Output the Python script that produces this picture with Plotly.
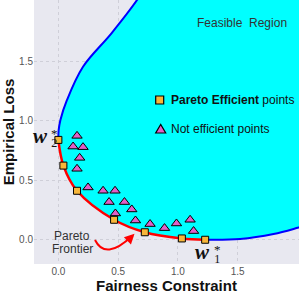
import plotly.graph_objects as go

# ---- data ----
# upper-left boundary of feasible region (blue), from top down to w2*
upper_x = [0.80, 0.658, 0.444, 0.206, 0.072, 0.017, 0.002, 0.0]
upper_y = [2.25, 2.017, 1.737, 1.456, 1.176, 1.008, 0.92, 0.84]
# Pareto efficient points (red frontier)
pareto_x = [0.0, 0.042, 0.156, 0.466, 0.723, 1.033, 1.228]
pareto_y = [0.84, 0.624, 0.412, 0.168, 0.063, 0.011, 0.0]
# lower-right boundary (blue), from w1* to the right
lower_x = [1.228, 1.52, 1.80, 2.01, 2.30]
lower_y = [0.0, 0.006, 0.048, 0.103, 0.19]
# non-efficient points
tri_x = [0.156, 0.123, 0.206, 0.178, 0.156, 0.248, 0.374, 0.474, 0.424, 0.553,
         0.477, 0.614, 0.645, 0.767, 0.888, 0.988, 1.102, 1.131]
tri_y = [0.874, 0.784, 0.779, 0.689, 0.597, 0.44, 0.412, 0.412, 0.317, 0.317,
         0.221, 0.255, 0.162, 0.132, 0.098, 0.137, 0.168, 0.073]
tick_vals = [0.0, 0.5, 1.0, 1.5]
tick_text = ["0.0", "0.5", "1.0", "1.5"]

X0, X1 = -0.204, 2.013
Y0, Y1 = -0.204, 2.017
L, T, W, H = 34, 0, 265, 264


def px2x(px):
    return X0 + (px - L) / W * (X1 - X0)


def py2y(py):
    return Y1 - (py - T) / H * (Y1 - Y0)


FONT = "Liberation Sans, Arial, sans-serif"
SERIF = "Liberation Serif, Times New Roman, serif"

fig = go.Figure()

# feasible region fill
fx = upper_x + pareto_x[1:] + lower_x[1:] + [3.0, 3.0, 0.9]
fy = upper_y + pareto_y[1:] + lower_y[1:] + [0.4, 3.0, 3.0]
fig.add_trace(go.Scatter(x=fx, y=fy, mode="lines", fill="toself",
                         fillcolor="#00FFFF", line=dict(width=0, shape="spline"),
                         hoverinfo="skip", showlegend=False))
# boundaries
fig.add_trace(go.Scatter(x=upper_x, y=upper_y, mode="lines",
                         line=dict(color="#0000FF", width=2, shape="spline"),
                         showlegend=False))
fig.add_trace(go.Scatter(x=lower_x, y=lower_y, mode="lines",
                         line=dict(color="#0000FF", width=2, shape="spline"),
                         showlegend=False))
fig.add_trace(go.Scatter(x=pareto_x, y=pareto_y, mode="lines",
                         line=dict(color="#FF0000", width=2.5, shape="spline"),
                         showlegend=False))
# points
fig.add_trace(go.Scatter(x=tri_x, y=tri_y, mode="markers",
                         marker=dict(symbol="triangle-up", size=9, color="#E060C8",
                                     line=dict(color="black", width=1)),
                         name="Not efficient points", showlegend=False))
fig.add_trace(go.Scatter(x=pareto_x, y=pareto_y, mode="markers",
                         marker=dict(symbol="square", size=7, color="#F7B63A",
                                     line=dict(color="black", width=1)),
                         name="Pareto Efficient points", showlegend=False))

ann = []


def text(px, py, s, size=12, color="#333", font=FONT, xanchor="center", yanchor="middle"):
    ann.append(dict(x=px2x(px), y=py2y(py), xref="x", yref="y", text=s,
                    showarrow=False, xanchor=xanchor, yanchor=yanchor, borderpad=0,
                    font=dict(size=size, color=color, family=font)))


def supsub(sub):
    # superscript '*' stacked above a subscript, one text block with tight line spacing
    return ("<span style='font-size:13px'>*</span><br>"
            f"<span style='font-size:12px'>{sub}</span>")


text(242, 23, "Feasible&nbsp;&nbsp;Region", 12)
text(170, 100, "<b>Pareto Efficient</b> points", 12, "#111", xanchor="left")
text(170, 129, "Not efficient points", 12, "#111", xanchor="left")
text(72, 236, "Pareto", 12)
text(72, 249, "Frontier", 12)
# w2*
text(48.5, 136, "<b><i>w</i></b>", 21, "#111", SERIF, xanchor="right")
text(50, 138, supsub("2"), 7.2, "#111", SERIF, xanchor="left")
# w1*
text(211, 252, "<b><i>w</i></b>", 21, "#111", SERIF, xanchor="right")
text(212.5, 254, supsub("1"), 7.2, "#111", SERIF, xanchor="left")

# arrow head
ann.append(dict(x=px2x(134.5), y=py2y(233.8), xref="x", yref="y", ax=-7, ay=7,
                showarrow=True, arrowhead=2, arrowsize=1, arrowwidth=2,
                arrowcolor="#FF0000", text=""))

shapes = []
# curved arrow body
p0 = (px2x(95), py2y(240))
c = (px2x(105.5), py2y(261))
p2 = (px2x(132), py2y(236))
shapes.append(dict(type="path", xref="x", yref="y",
                   path=f"M {p0[0]},{p0[1]} Q {c[0]},{c[1]} {p2[0]},{p2[1]}",
                   line=dict(color="#FF0000", width=2)))
# legend keys
shapes.append(dict(type="rect", xref="x", yref="y", xsizemode="pixel", ysizemode="pixel",
                   xanchor=px2x(159.7), yanchor=py2y(100), x0=-4, x1=4, y0=-4, y1=4,
                   fillcolor="#F7B63A", line=dict(color="black", width=1.2)))
shapes.append(dict(type="path", xref="x", yref="y", xsizemode="pixel", ysizemode="pixel",
                   xanchor=px2x(160.7), yanchor=py2y(129.5),
                   path="M -5,-3.5 L 5,-3.5 L 0,5 Z",
                   fillcolor="#E060C8", line=dict(color="black", width=1.2)))

axis_common = dict(showgrid=True, gridcolor="#CFCFD8", griddash="dot", gridwidth=1,
                   zeroline=False, showline=False, ticks="", automargin=False,
                   tickvals=tick_vals, ticktext=tick_text,
                   tickfont=dict(size=10, color="#555", family=FONT))

fig.update_layout(
    width=299, height=295,
    margin=dict(l=L, r=0, t=T, b=31, pad=0),
    paper_bgcolor="white", plot_bgcolor="#E8E8F0",
    showlegend=False,
    xaxis=dict(range=[X0, X1], title=dict(text="<b>Fairness Constraint</b>", standoff=4,
                                          font=dict(size=15, color="#111", family=FONT)),
               **axis_common),
    yaxis=dict(range=[Y0, Y1], title=dict(text="<b>Empirical Loss</b>", standoff=4,
                                          font=dict(size=15, color="#111", family=FONT)),
               **axis_common),
    annotations=ann, shapes=shapes,
)

fig.write_html("out.html", config={"displayModeBar": False},
               post_script="document.body.style.margin='0';document.body.style.overflow='hidden';")
